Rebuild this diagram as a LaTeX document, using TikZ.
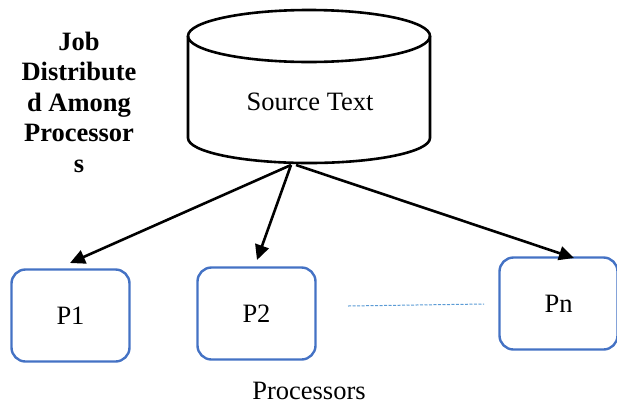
\documentclass[tikz,border=0pt]{standalone}
\usepackage{fontspec}
\setmainfont{Liberation Serif}
\usetikzlibrary{arrows.meta}
\tikzset{
  proc/.style={draw=procblue, line width=2.4pt, rounded corners=14pt, minimum width=118pt, minimum height=92pt, font=\fontsize{26.5}{30}\selectfont},
  cyl/.style={draw=black, line width=2.6pt},
  distarrow/.style={draw=black, line width=2.6pt, -{Triangle[length=15pt,width=14pt]}},
  txt/.style={font=\fontsize{26.5}{30}\selectfont},
}
\definecolor{procblue}{HTML}{4472C4}
\definecolor{dashblue}{HTML}{5B9BD5}
\begin{document}
\begin{tikzpicture}[x=1pt,y=-1pt]
\useasboundingbox (0,0) rectangle (617,405);
% cylinder
\draw[cyl] (309,36) ellipse [x radius=121, y radius=26];
\draw[cyl] (188,36) -- (188,138) arc[start angle=180, end angle=360, x radius=121, y radius=-25] -- (430,36);
\node[txt] (src) at (310,102) {Source Text};
\coordinate (s1) at (291,165);
\coordinate (s2) at (296,165);
% title
\node[font=\fontsize{26.5}{30.5}\selectfont\bfseries, align=center] (title) at (79,102) {Job\\Distribute\\d Among\\Processor\\s};
% processors
\node[proc] (p1) at (70.5,315.5) {P1};
\node[proc] (p2) at (256.5,313.5) {P2};
\node[proc] (pn) at (558.5,303.5) {Pn};
\coordinate (t1) at (70,263);
\coordinate (t2) at (257,260);
\coordinate (tn) at (574,258);
\draw[distarrow] (s1) -- (t1);
\draw[distarrow] (s1) -- (t2);
\draw[distarrow] (s2) -- (tn);
\coordinate (d1) at (348,306);
\coordinate (d2) at (484,304);
\draw[dashblue, line width=1pt, dash pattern=on 3pt off 1.5pt] (d1) -- (d2);
\node[txt] (plabel) at (309,391) {Processors};
\end{tikzpicture}
\end{document}
